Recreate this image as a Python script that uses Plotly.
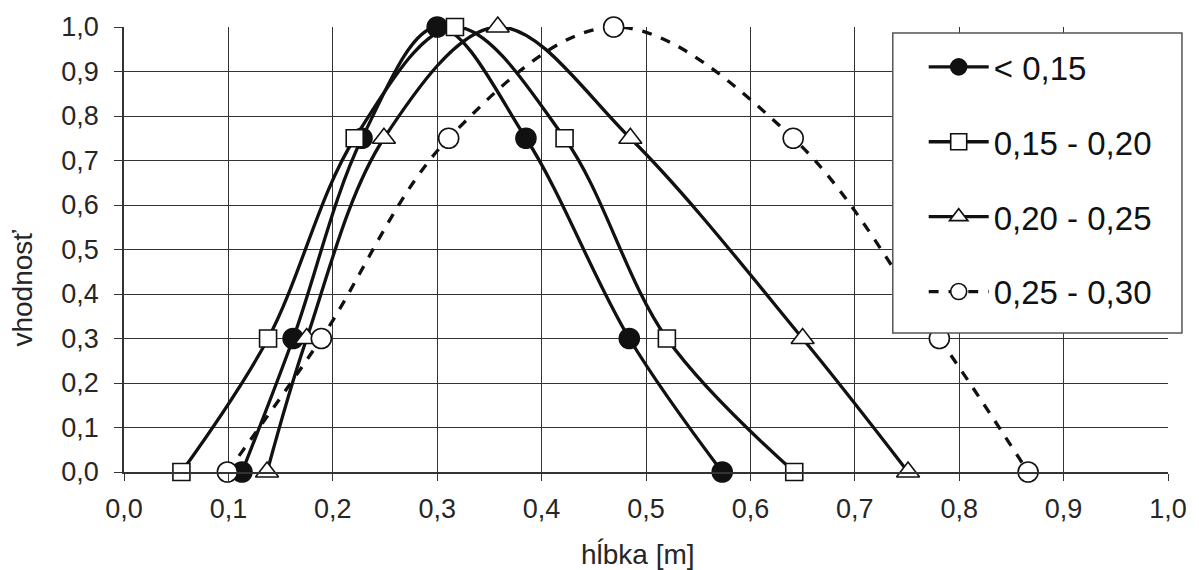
import plotly.graph_objects as go

# suitability (vhodnosť) levels shared by every depth curve
suitability = [0.0, 0.3, 0.75, 1.0, 0.75, 0.3, 0.0]

# depth values (hĺbka, m) for each velocity class
depth_lt015 = [0.113, 0.162, 0.228, 0.300, 0.385, 0.484, 0.573]
depth_015_020 = [0.055, 0.138, 0.221, 0.317, 0.422, 0.520, 0.642]
depth_020_025 = [0.137, 0.175, 0.249, 0.358, 0.485, 0.650, 0.751]
depth_025_030 = [0.099, 0.189, 0.311, 0.469, 0.641, 0.781, 0.866]

series_names = ["< 0,15", "0,15 - 0,20", "0,20 - 0,25", "0,25 - 0,30"]

x_ticks = [i / 10 for i in range(11)]
x_tick_text = ["0,0", "0,1", "0,2", "0,3", "0,4", "0,5", "0,6", "0,7", "0,8", "0,9", "1,0"]
y_ticks = [i / 10 for i in range(11)]
y_tick_text = ["0,0", "0,1", "0,2", "0,3", "0,4", "0,5", "0,6", "0,7", "0,8", "0,9", "1,0"]

FONT = "Liberation Sans, Arial, sans-serif"
INK = "#111111"
LABEL = "#262626"

# plot area in pixels, used to place the legend frame and axis titles
L, R, T, B = 124, 1171, 24, 472
PW, PH = R - L, B - T


def px_x(px):
    return (px - L) / PW


def px_y(py):
    return (B - py) / PH


styles = [
    dict(symbol="circle", size=20, color=INK, dash="solid"),
    dict(symbol="square", size=17, color="white", dash="solid"),
    dict(symbol="triangle-up", size=20, color="white", dash="solid"),
    dict(symbol="circle", size=20, color="white", dash="dash"),
]

fig = go.Figure()
for i, (name, xs, st) in enumerate(zip(
        series_names,
        [depth_lt015, depth_015_020, depth_020_025, depth_025_030],
        styles)):
    fig.add_trace(go.Scatter(
        x=xs, y=suitability, name=name, mode="lines+markers",
        legendgroup=f"g{i}",
        line=dict(color=INK, width=3.3, shape="spline", smoothing=1.0, dash=st["dash"]),
        marker=dict(symbol=st["symbol"], size=st["size"], color=st["color"],
                    line=dict(color=INK, width=1.6)),
        cliponaxis=False,
    ))

grid = "#333333"
fig.update_layout(
    width=1199, height=570,
    margin=dict(l=L, r=1199 - R, t=T, b=570 - B),
    paper_bgcolor="white", plot_bgcolor="white",
    font=dict(family=FONT, size=27, color=LABEL),
    showlegend=True,
    legend=dict(
        x=px_x(926), y=px_y(36), xanchor="left", yanchor="top",
        bgcolor="rgba(0,0,0,0)", borderwidth=0,
        font=dict(family=FONT, size=33, color="#111111"),
        tracegroupgap=29, itemwidth=60,
    ),
    xaxis=dict(
        range=[0, 1], tickvals=x_ticks, ticktext=x_tick_text,
        showgrid=True, gridcolor=grid, gridwidth=1,
        showline=True, linecolor=grid, linewidth=1.5,
        ticks="outside", ticklen=7, tickcolor=grid,
        zeroline=False, tickfont=dict(size=27, color=LABEL),
        ticklabelstandoff=5,
    ),
    yaxis=dict(
        range=[0, 1], tickvals=y_ticks, ticktext=y_tick_text,
        showgrid=True, gridcolor=grid, gridwidth=1,
        showline=True, linecolor=grid, linewidth=1.5,
        ticks="outside", ticklen=8, tickcolor=grid,
        zeroline=False, tickfont=dict(size=27, color=LABEL),
        ticklabelstandoff=10,
    ),
    shapes=[
        # legend frame
        dict(type="rect", xref="paper", yref="paper", layer="above",
             x0=px_x(895), x1=px_x(1185), y0=px_y(332), y1=px_y(30),
             fillcolor="white", line=dict(color="#555555", width=1.5)),
    ],
    annotations=[
        dict(text="hĺbka [m]", xref="paper", yref="paper",
             x=px_x(639), y=px_y(555),
             xanchor="center", yanchor="middle", showarrow=False,
             font=dict(family=FONT, size=28, color=LABEL)),
        dict(text="vhodnosť", xref="paper", yref="paper",
             x=px_x(22), y=px_y(287), textangle=-90,
             xanchor="center", yanchor="middle", showarrow=False,
             font=dict(family=FONT, size=28, color=LABEL)),
    ],
)

fig.write_html("out.html")
